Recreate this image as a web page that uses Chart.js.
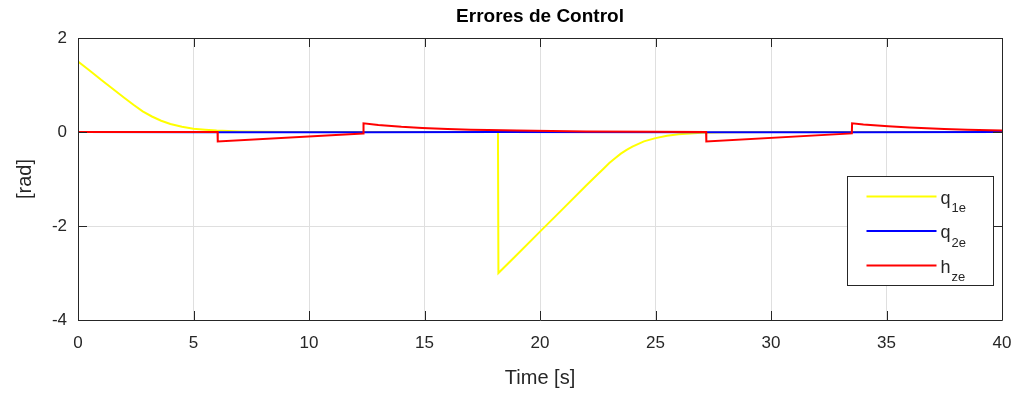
<!DOCTYPE html>
<html>
<head>
<meta charset="utf-8">
<script src="https://cdn.jsdelivr.net/npm/chart.js@4.4.1/dist/chart.umd.min.js"></script>
<style>
  html, body { margin: 0; padding: 0; background: #ffffff; }
  #wrap { width: 1031px; height: 394px; position: relative; }
</style>
</head>
<body>
<div id="wrap"><canvas id="c"></canvas></div>
<script>
// ---- data ----
const chartTitle = "Errores de Control";
const xTitle = "Time [s]";
const yTitle = "[rad]";
const xTicks = [0, 5, 10, 15, 20, 25, 30, 35, 40];
const yTicks = [-4, -2, 0, 2];

const q1eTime = [0, 0.001, 0.5, 1.0, 1.5, 2.0, 2.4, 2.8, 3.2, 3.6, 4.0, 4.5, 5.0, 5.5, 6.0, 6.5, 7, 8, 9, 10,
                 18.18, 18.2, 19, 20, 21, 22, 22.5, 22.75, 23, 23.25, 23.5, 23.75, 24, 24.5, 25, 25.5, 26, 26.5, 27, 28, 30, 40];
const q1eVals = [0, 1.5, 1.31, 1.11, 0.92, 0.73, 0.58, 0.44, 0.33, 0.24, 0.17, 0.11, 0.07, 0.05, 0.03, 0.02, 0.013, 0.005, 0.002, 0,
                 0, -3.0, -2.61, -2.12, -1.63, -1.14, -0.9, -0.78, -0.66, -0.56, -0.46, -0.38, -0.31, -0.2, -0.13, -0.08, -0.05, -0.03, -0.015, -0.005, 0, 0];

const q2eTime = [0, 6, 12.4, 18.2, 27.2, 33.5, 40];
const q2eVals = [0, -0.005, -0.005, 0, -0.005, -0.005, 0];

const hzeTime = [0, 6.04, 6.05, 12.35, 12.36, 13, 14, 14.9, 16, 17, 17.75, 19, 20.5, 22, 25, 27.19,
                 27.2, 33.5, 33.51, 34, 35.07, 36, 37, 37.5, 38.5, 40];
const hzeVals = [0, 0, -0.2, -0.03, 0.185, 0.15, 0.11, 0.085, 0.065, 0.05, 0.043, 0.03, 0.02, 0.01, 0.003, 0,
                 -0.2, -0.03, 0.185, 0.16, 0.12, 0.095, 0.075, 0.065, 0.05, 0.03];

const seriesLabels = ["q1e", "q2e", "hze"];
const seriesMain = ["q", "q", "h"];
const seriesSub = ["1e", "2e", "ze"];
const seriesColors = ["#ffff00", "#0000ff", "#ff0000"];

function pts(t, v) { return t.map((x, i) => ({ x: x, y: v[i] })); }

const FONT = "'Liberation Sans', Arial, Helvetica, sans-serif";
const AXC = "#262626";

const boxPlugin = {
  id: 'boxPlugin',
  afterDraw(chart) {
    const ctx = chart.ctx;
    const a = chart.chartArea;
    const xs = chart.scales.x, ys = chart.scales.y;
    const tl = 9;
    ctx.save();
    ctx.strokeStyle = AXC;
    ctx.lineWidth = 1;
    ctx.beginPath();
    ctx.rect(Math.round(a.left) + 0.5, Math.round(a.top) + 0.5, Math.round(a.right - a.left), Math.round(a.bottom - a.top));
    ctx.stroke();
    ctx.beginPath();
    xTicks.forEach(v => {
      const px = Math.round(xs.getPixelForValue(v)) + 0.5;
      ctx.moveTo(px, a.top); ctx.lineTo(px, a.top + tl);
      ctx.moveTo(px, a.bottom); ctx.lineTo(px, a.bottom - tl);
    });
    yTicks.forEach(v => {
      const py = Math.round(ys.getPixelForValue(v)) + 0.5;
      ctx.moveTo(a.left, py); ctx.lineTo(a.left + tl, py);
      ctx.moveTo(a.right, py); ctx.lineTo(a.right - tl, py);
    });
    ctx.stroke();

    // legend
    const W = 146, H = 109;
    const L = Math.round(a.right - 9 - W) + 0.5, T = Math.round(a.top + 138) + 0.5;
    ctx.fillStyle = "#ffffff";
    ctx.fillRect(L, T, W, H);
    ctx.strokeStyle = AXC;
    ctx.strokeRect(L, T, W, H);
    for (let i = 0; i < 3; i++) {
      const y = T + 20 + i * 34.5;
      ctx.strokeStyle = seriesColors[i];
      ctx.lineWidth = 2;
      ctx.beginPath();
      ctx.moveTo(L + 19, y); ctx.lineTo(L + 89, y);
      ctx.stroke();
      ctx.fillStyle = AXC;
      ctx.textBaseline = "alphabetic";
      ctx.textAlign = "left";
      ctx.font = "18px " + FONT;
      const tx = L + 93;
      ctx.fillText(seriesMain[i], tx, y + 7);
      const w = ctx.measureText(seriesMain[i]).width;
      ctx.font = "13px " + FONT;
      ctx.fillText(seriesSub[i], tx + w + 1, y + 15.5);
    }
    ctx.restore();
  }
};

new Chart(document.getElementById('c'), {
  type: 'line',
  data: {
    datasets: [
      { label: seriesLabels[0], data: pts(q1eTime, q1eVals), borderColor: seriesColors[0], order: 3 },
      { label: seriesLabels[1], data: pts(q2eTime, q2eVals), borderColor: seriesColors[1], order: 2 },
      { label: seriesLabels[2], data: pts(hzeTime, hzeVals), borderColor: seriesColors[2], order: 1 }
    ]
  },
  options: {
    responsive: true,
    maintainAspectRatio: false,
    animation: false,
    devicePixelRatio: 1,
    elements: {
      line: { borderWidth: 2, tension: 0, fill: false },
      point: { radius: 0, hoverRadius: 0 }
    },
    layout: { padding: { left: 0, right: 29, top: 0, bottom: 0 } },
    plugins: {
      legend: { display: false },
      tooltip: { enabled: false },
      title: {
        display: true,
        fullSize: false,
        text: chartTitle,
        color: "#000000",
        font: { family: FONT, size: 19, weight: 'bold' },
        padding: { top: 5.6, bottom: 9.6 }
      }
    },
    scales: {
      x: {
        type: 'linear',
        min: 0, max: 40,
        afterBuildTicks(s) { s.ticks = xTicks.map(v => ({ value: v })); },
        afterFit(s) { s.height = 74; },
        ticks: { color: AXC, font: { family: FONT, size: 17 }, padding: 12.8, maxRotation: 0 },
        grid: { color: "#dfdfdf", drawTicks: false, lineWidth: 1 },
        border: { display: false },
        title: { display: true, text: xTitle, color: AXC, font: { family: FONT, size: 20 }, padding: { top: 0, bottom: 4 } }
      },
      y: {
        type: 'linear',
        min: -4, max: 2,
        afterBuildTicks(s) { s.ticks = yTicks.map(v => ({ value: v })); },
        afterFit(s) { s.width = 78; },
        ticks: { color: AXC, font: { family: FONT, size: 17 }, padding: 11 },
        grid: { color: "#dfdfdf", drawTicks: false, lineWidth: 1 },
        border: { display: false },
        title: { display: true, text: yTitle, color: AXC, font: { family: FONT, size: 20 }, padding: { top: 13, bottom: 0 } }
      }
    }
  },
  plugins: [boxPlugin]
});
</script>
</body>
</html>
